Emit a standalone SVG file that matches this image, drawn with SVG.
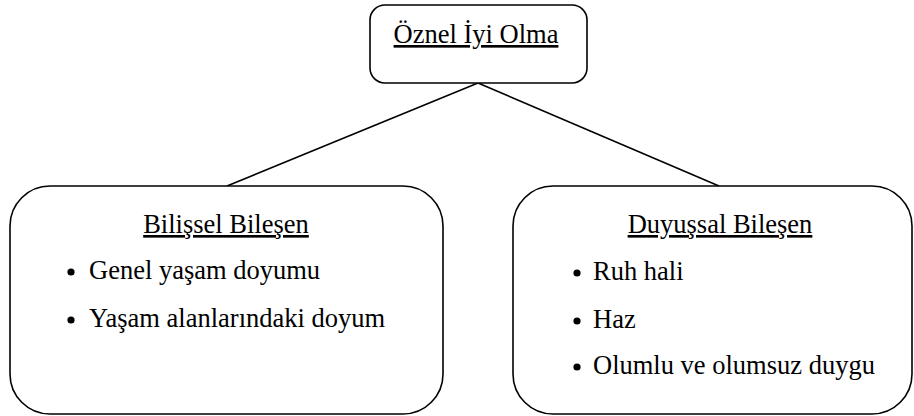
<svg xmlns="http://www.w3.org/2000/svg" width="914" height="416" viewBox="0 0 914 416">
<style>
.box{fill:#fff;stroke:#000;stroke-width:1.6}
.t{font-family:"Liberation Serif","Times New Roman",serif;font-size:26.5px;fill:#000}
.h{text-anchor:middle;text-decoration:underline}
.conn line{stroke:#000;stroke-width:1.6}
</style>
<g class="conn" id="connectors">
<line x1="478" y1="83" x2="227" y2="186"/>
<line x1="478" y1="83" x2="719" y2="186"/>
</g>
<g id="top">
<rect class="box" x="370" y="5" width="217" height="78" rx="15"/>
<text class="t h" x="476" y="43">Öznel İyi Olma</text>
</g>
<g id="left">
<rect class="box" x="10" y="186" width="433" height="228" rx="40"/>
<text class="t h" x="226" y="233">Bilişsel Bileşen</text>
<circle cx="71" cy="272" r="3.6"/>
<text class="t" x="89" y="279">Genel yaşam doyumu</text>
<circle cx="71" cy="320" r="3.6"/>
<text class="t" x="89" y="327">Yaşam alanlarındaki doyum</text>
</g>
<g id="right">
<rect class="box" x="513" y="186" width="399" height="228" rx="40"/>
<text class="t h" x="720" y="233">Duyuşsal Bileşen</text>
<circle cx="577" cy="273" r="3.6"/>
<text class="t" x="593" y="280">Ruh hali</text>
<circle cx="577" cy="321" r="3.6"/>
<text class="t" x="593" y="328">Haz</text>
<circle cx="577" cy="367" r="3.6"/>
<text class="t" x="593" y="374">Olumlu ve olumsuz duygu</text>
</g>
</svg>
